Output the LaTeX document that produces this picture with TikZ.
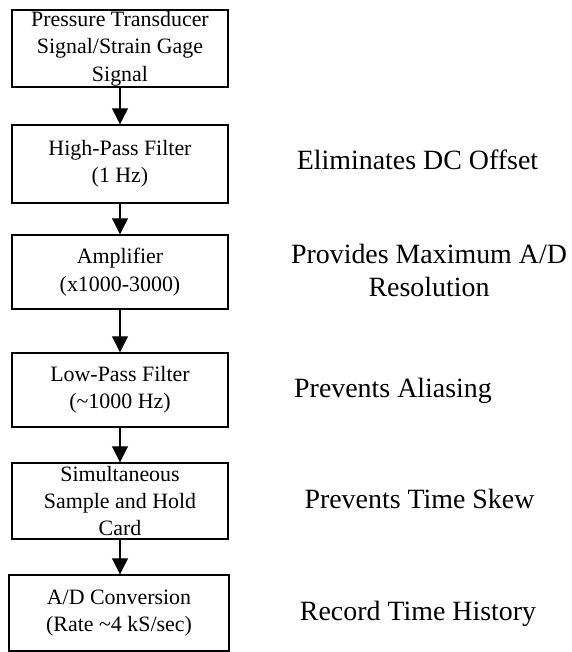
\documentclass[tikz,border=0pt]{standalone}
\usepackage{fontspec}
\setmainfont{Liberation Serif}
\usetikzlibrary{arrows.meta}
\tikzset{
  stage/.style={draw, line width=1.4bp, rectangle, inner sep=0pt, align=center,
    minimum width=216bp, font=\fontsize{22}{27.5}\selectfont},
  note/.style={inner sep=0pt, align=center, font=\fontsize{28}{34}\selectfont},
  flow/.style={line width=1.2bp, -{Triangle[width=16bp,length=16bp]}},
}
\begin{document}
\begin{tikzpicture}[x=1bp,y=-1bp]
\useasboundingbox (0,0) rectangle (572,652);
\node[stage, minimum height=77bp] (b1) at (120,48.5) {Pressure Transducer\\Signal/Strain Gage\\Signal};
\node[stage, minimum height=78bp] (b2) at (120,164) {High-Pass Filter\\(1 Hz)};
\node[stage, minimum height=74bp] (b3) at (120,272) {Amplifier\\(x1000-3000)};
\node[stage, minimum height=74bp] (b4) at (120,390) {Low-Pass Filter\\(\textasciitilde1000 Hz)};
\node[stage, minimum height=76bp] (b5) at (120,501) {Simultaneous\\Sample and Hold\\Card};
\node[stage, minimum width=220bp, minimum height=76bp] (b6) at (119,613) {A/D Conversion\\(Rate \textasciitilde4 kS/sec)};

\draw[flow] (b1.south) -- (b2.north);
\draw[flow] (b2.south) -- (b3.north);
\draw[flow] (b3.south) -- (b4.north);
\draw[flow] (b4.south) -- (b5.north);
\draw[flow] (b5.south) -- (b5.south |- b6.north);

\node[note, anchor=base] (n2) at (417.5,169) {Eliminates DC Offset};
\node[note] (n3) at (429,270.5) {Provides Maximum A/D\\Resolution};
\node[note, anchor=base] (n4) at (393,397) {Prevents Aliasing};
\node[note, anchor=base] (n5) at (419.5,508) {Prevents Time Skew};
\node[note, anchor=base] (n6) at (418,620) {Record Time History};
\end{tikzpicture}
\end{document}
